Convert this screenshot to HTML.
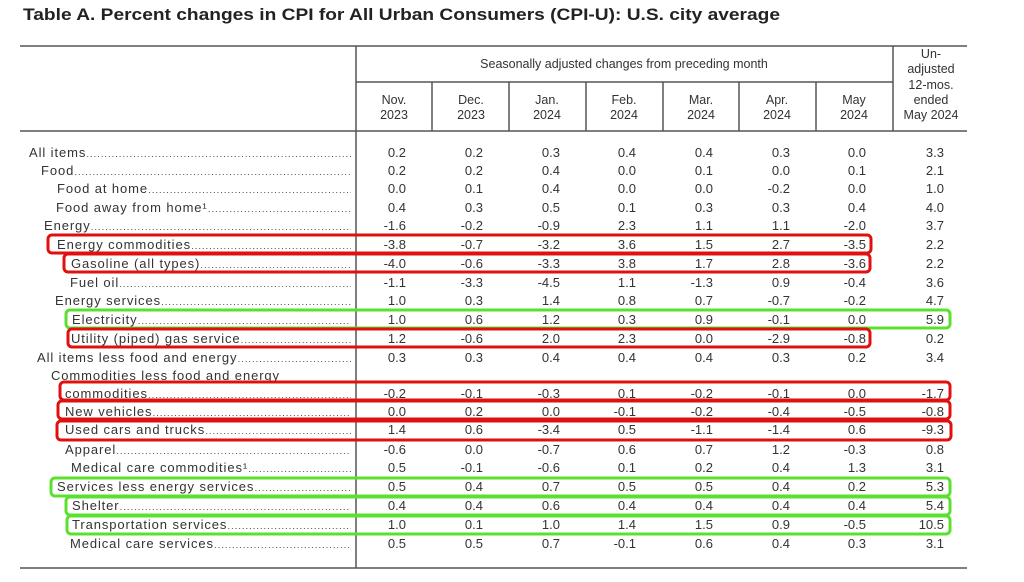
<!DOCTYPE html>
<html><head><meta charset="utf-8"><style>
html,body{margin:0;padding:0;background:#fff;width:1024px;height:582px;overflow:hidden}
svg{display:block}
text{font-family:"Liberation Sans",Arial,sans-serif;fill:#333}
.t{font-size:13px;letter-spacing:0.9px}
.n{font-size:13px;text-anchor:end}
.h{font-size:12.5px;text-anchor:middle}
</style></head><body>
<svg width="1024" height="582" viewBox="0 0 1024 582" xmlns="http://www.w3.org/2000/svg">
<text x="23" y="20" style="font-size:17px;font-weight:bold;fill:#222" textLength="757" lengthAdjust="spacingAndGlyphs">Table A. Percent changes in CPI for All Urban Consumers (CPI-U): U.S. city average</text>
<g stroke="#555" stroke-width="1.5" fill="none">
<line x1="20" y1="46" x2="967" y2="46"/>
<line x1="356" y1="82" x2="893" y2="82"/>
<line x1="20" y1="131" x2="967" y2="131"/>
<line x1="20" y1="568" x2="967" y2="568"/>
<line x1="356" y1="46" x2="356" y2="568"/>
<line x1="893" y1="46" x2="893" y2="131"/>
<line x1="432" y1="82" x2="432" y2="131"/>
<line x1="509" y1="82" x2="509" y2="131"/>
<line x1="586" y1="82" x2="586" y2="131"/>
<line x1="663" y1="82" x2="663" y2="131"/>
<line x1="739" y1="82" x2="739" y2="131"/>
<line x1="816" y1="82" x2="816" y2="131"/>
</g>
<text class="h" x="624" y="68">Seasonally adjusted changes from preceding month</text>
<g>
<text class="h" x="394" y="104">Nov.</text><text class="h" x="394" y="119">2023</text>
<text class="h" x="471" y="104">Dec.</text><text class="h" x="471" y="119">2023</text>
<text class="h" x="547" y="104">Jan.</text><text class="h" x="547" y="119">2024</text>
<text class="h" x="624" y="104">Feb.</text><text class="h" x="624" y="119">2024</text>
<text class="h" x="701" y="104">Mar.</text><text class="h" x="701" y="119">2024</text>
<text class="h" x="777" y="104">Apr.</text><text class="h" x="777" y="119">2024</text>
<text class="h" x="854" y="104">May</text><text class="h" x="854" y="119">2024</text>
<text class="h" x="931" y="58">Un-</text>
<text class="h" x="931" y="73">adjusted</text>
<text class="h" x="931" y="89">12-mos.</text>
<text class="h" x="931" y="104">ended</text>
<text class="h" x="931" y="119">May 2024</text>
</g>
<g id="rows"></g>
<g fill="none" stroke-width="3">
<rect x="48" y="235" width="823" height="18" rx="4" stroke="#e01010"/>
<rect x="64" y="254" width="806" height="18" rx="4" stroke="#e01010"/>
<rect x="66" y="310" width="884" height="18" rx="4" stroke="#5be030"/>
<rect x="68" y="329" width="802" height="18" rx="4" stroke="#e01010"/>
<rect x="60" y="382" width="890" height="18" rx="4" stroke="#e01010"/>
<rect x="58" y="401" width="892" height="18" rx="4" stroke="#e01010"/>
<rect x="57" y="421" width="894" height="19" rx="4" stroke="#e01010"/>
<rect x="51" y="478" width="899" height="18" rx="4" stroke="#5be030"/>
<rect x="66" y="497" width="884" height="18" rx="4" stroke="#5be030"/>
<rect x="67" y="516" width="883" height="18" rx="4" stroke="#5be030"/>
</g>
</svg>
<script>
var rows=[
[157,29,"All items",["0.2","0.2","0.3","0.4","0.4","0.3","0.0","3.3"]],
[175,41,"Food",["0.2","0.2","0.4","0.0","0.1","0.0","0.1","2.1"]],
[193,57,"Food at home",["0.0","0.1","0.4","0.0","0.0","-0.2","0.0","1.0"]],
[212,56,"Food away from home\u00b9",["0.4","0.3","0.5","0.1","0.3","0.3","0.4","4.0"]],
[230,44,"Energy",["-1.6","-0.2","-0.9","2.3","1.1","1.1","-2.0","3.7"]],
[249,57,"Energy commodities",["-3.8","-0.7","-3.2","3.6","1.5","2.7","-3.5","2.2"]],
[268,71,"Gasoline (all types)",["-4.0","-0.6","-3.3","3.8","1.7","2.8","-3.6","2.2"]],
[287,70,"Fuel oil",["-1.1","-3.3","-4.5","1.1","-1.3","0.9","-0.4","3.6"]],
[305,55,"Energy services",["1.0","0.3","1.4","0.8","0.7","-0.7","-0.2","4.7"]],
[324,72,"Electricity",["1.0","0.6","1.2","0.3","0.9","-0.1","0.0","5.9"]],
[343,71,"Utility (piped) gas service",["1.2","-0.6","2.0","2.3","0.0","-2.9","-0.8","0.2"]],
[362,37,"All items less food and energy",["0.3","0.3","0.4","0.4","0.4","0.3","0.2","3.4"]],
[380,51,"Commodities less food and energy",null],
[398,65,"commodities",["-0.2","-0.1","-0.3","0.1","-0.2","-0.1","0.0","-1.7"]],
[416,65,"New vehicles",["0.0","0.2","0.0","-0.1","-0.2","-0.4","-0.5","-0.8"]],
[434,65,"Used cars and trucks",["1.4","0.6","-3.4","0.5","-1.1","-1.4","0.6","-9.3"]],
[454,65,"Apparel",["-0.6","0.0","-0.7","0.6","0.7","1.2","-0.3","0.8"]],
[472,71,"Medical care commodities\u00b9",["0.5","-0.1","-0.6","0.1","0.2","0.4","1.3","3.1"]],
[491,57,"Services less energy services",["0.5","0.4","0.7","0.5","0.5","0.4","0.2","5.3"]],
[510,72,"Shelter",["0.4","0.4","0.6","0.4","0.4","0.4","0.4","5.4"]],
[529,72,"Transportation services",["1.0","0.1","1.0","1.4","1.5","0.9","-0.5","10.5"]],
[548,70,"Medical care services",["0.5","0.5","0.7","-0.1","0.6","0.4","0.3","3.1"]]
];
var rx=[406,483,560,636,713,790,866,944];
var g=document.getElementById('rows'),h="";
rows.forEach(function(r,k){
 h+='<text class="t" id="L'+k+'" x="'+r[1]+'" y="'+r[0]+'">'+r[2]+'</text>';
 r[3]&&r[3].forEach(function(v,i){h+='<text class="n" x="'+rx[i]+'" y="'+r[0]+'">'+v+'</text>';});
});
g.innerHTML=h;
var d="";
rows.forEach(function(r,k){
 if(!r[3])return;
 var el=document.getElementById('L'+k);
 var w=r[1]+el.getComputedTextLength()+1;
 d+='<line x1="'+w+'" y1="'+(r[0]-0.5)+'" x2="351" y2="'+(r[0]-0.5)+'" stroke="#555" stroke-width="1" stroke-dasharray="1,2.6"/>';
});
g.innerHTML+=d;
</script>
</body></html>
